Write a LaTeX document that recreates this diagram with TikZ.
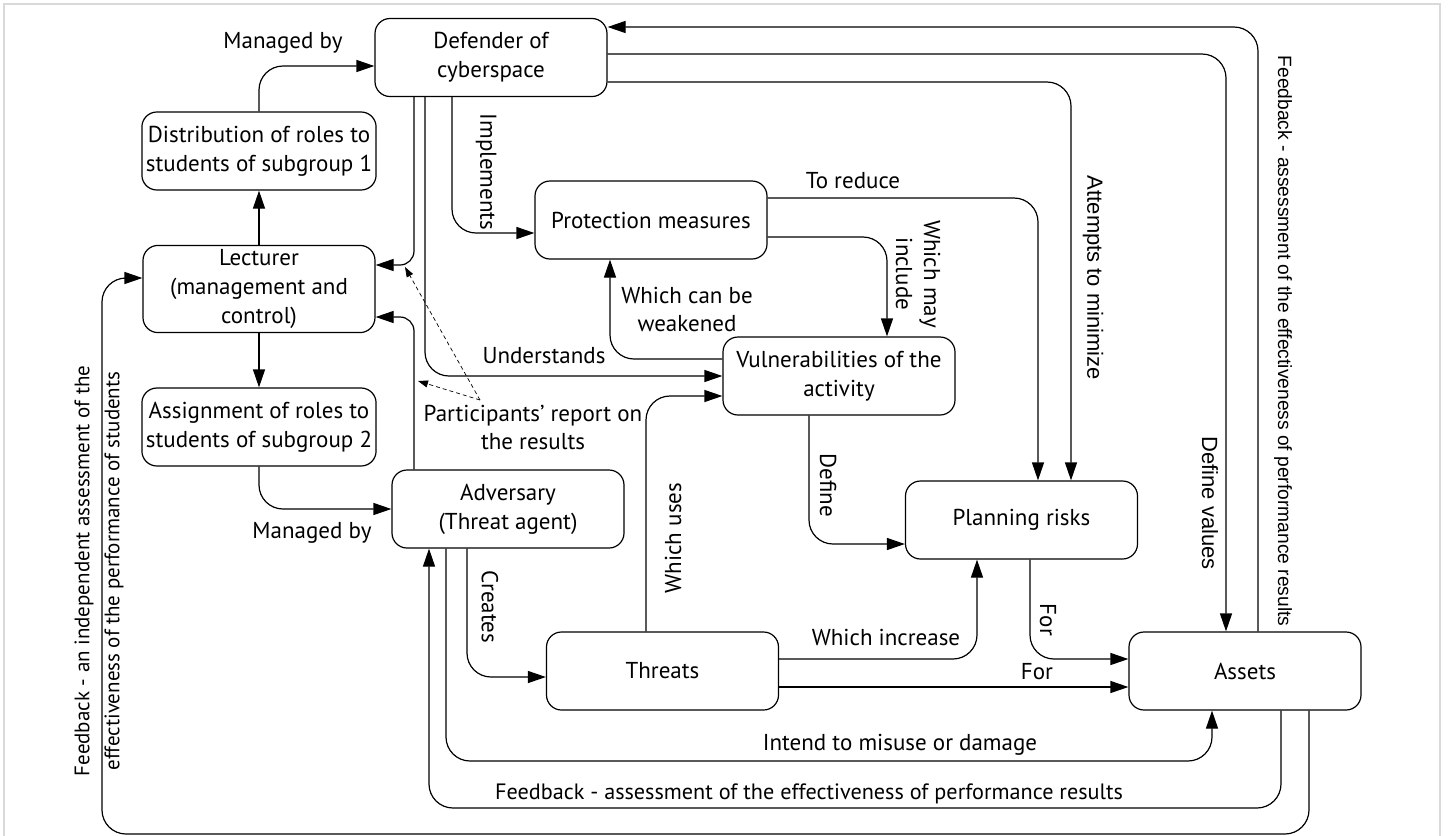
\documentclass[tikz,border=0pt]{standalone}
\usepackage{fontspec}
\setmainfont{PT Sans}
\newfontfamily\arialfont{Liberation Sans}
\usetikzlibrary{positioning,arrows.meta}
\begin{document}
\begin{tikzpicture}[x=0.5pt, y=-0.5pt, node distance={69pt}, line width=0.6pt,
  box/.style = {draw, rounded corners=7.5pt, minimum width=116pt, minimum height=39pt, align=center, inner sep=2pt, font=\fontsize{11.5}{14.5}\selectfont},
  lbl/.style = {align=center, inner sep=0pt, font=\fontsize{11.5}{14}\selectfont},
  arl/.style = {align=center, inner sep=0pt, font=\arialfont\fontsize{11}{13}\selectfont},
  arr/.style = {-{Triangle[length=9pt,width=6pt]}, rounded corners=12pt},
  rep/.style = {-{Triangle[length=5pt,width=3.5pt]}, line width=0.35pt, dash pattern=on 2pt off 1.5pt}]
\useasboundingbox (0,0) rectangle (1448,836);
\draw[black!15, line width=1pt] (4,4) rectangle (1440,860);

\node[box] (lect) at (259,289) {Lecturer\\(management and\\control)};
\node[box] (dist) [above of=lect] {Distribution of roles to\\students of subgroup 1};
\node[box] (assign) [below of=lect] {Assignment of roles to\\students of subgroup 2};
\node[box] (def) at (491,57.5) {Defender of\\cyberspace};
\node[box] (adv) at (508,509) {Adversary\\(Threat agent)};
\node[box] (prot) at (651,220) {Protection measures};
\node[box] (vuln) at (839,376) {Vulnerabilities of the\\activity};
\node[box] (plan) at (1021.5,520) {Planning risks};
\node[box] (threats) at (662.5,671) {Threats};
\node[box] (assets) at (1245,671) {Assets};

% left part
\draw[arr] (dist.north) |- (def.west |- 0,66);
\draw[arr] (lect) -- (dist);
\draw[arr] (lect) -- (assign);
\draw[arr, rounded corners=7pt] (def.south -| 414,0) |- (lect.east |- 0,265);
\draw[arr, rounded corners=7pt] (adv.north -| 414,0) |- (lect.east |- 0,317);
\draw[arr] (def.south -| 425,0) |- (vuln.west);
\draw[arr] (def.south -| 452,0) |- (prot.west |- 0,233);
\draw[arr] (assign.south) |- (adv.west);
\draw[arr] (adv.south -| 467,0) |- (threats.west |- 0,677);
\draw[arr] (adv.south -| 446,0) |- (1212,761) -- (assets.south -| 1212,0);
\draw[arr] (assets.south -| 1281,0) |- (429,808) -- (adv.south -| 429,0);
\draw[arr] (assets.south -| 1309,0) |- (102,834) |- (lect.west |- 0,278);

% middle part
\draw[arr] (threats.north -| 646,0) |- (vuln.west |- 0,396);
\draw[arr] (vuln.south -| 809,0) |- (plan.west |- 0,544);
\draw[arr] (threats.east |- 0,659) -| (plan.south -| 977,0);
\draw[arr] (threats.east |- 0,687) -- (assets.west |- 0,687);
\draw[arr] (plan.south -| 1030,0) |- (assets.west |- 0,659);
\draw[arr] (prot.east |- 0,237) -| (vuln.north -| 887,0);
\draw[arr] (vuln.west |- 0,359) -| (prot.south -| 610,0);

% right part
\draw[arr] (prot.east |- 0,198) -| (plan.north -| 1038,0);
\draw[arr] (def.east |- 0,82) -| (plan.north -| 1071,0);
\draw[arr] (def.east |- 0,54) -| (assets.north -| 1226,0);
\draw[arr] (assets.north -| 1258,0) |- (def.east |- 0,27);

% report of the participants
\coordinate (rp) at (480,400);
\coordinate (rpa) at (418,381);
\coordinate (rpb) at (405,267);
\draw[rep] (rp) -- (rpa);
\draw[rep] (rp) -- (rpb);

\node[lbl] (tman1) at (283,43) {Managed by};
\node[lbl] (tman2) at (312,533) {Managed by};
\node[lbl, rotate=-90] (timpl) at (486,172) {Implements};
\node[lbl] (tund) at (544,356) {Understands};
\node[lbl] (trep) at (533,427) {Participants' report on\\the results};
\node[lbl, rotate=-90] (tcre) at (490,607) {Creates};
\node[lbl] (tint) at (900,745) {Intend to misuse or damage};
\node[lbl, font=\fontsize{11.1}{14}\selectfont] (tfb1) at (809,794) {Feedback - assessment of the effectiveness of performance results};
\node[lbl, rotate=90, font=\fontsize{10.5}{15}\selectfont] (tfb2) at (99,571) {Feedback - an independent assessment of the\\effectiveness of the performance of students};
\node[lbl, rotate=90] (tuses) at (673,538) {Which uses};
\node[lbl, rotate=-90] (tdef) at (828,485) {Define};
\node[lbl] (tinc) at (886,637) {Which increase};
\node[lbl] (tfor1) at (1037,672) {For};
\node[lbl, rotate=-90] (tfor2) at (1048,620) {For};
\node[lbl] (tred) at (853,181) {To reduce};
\node[lbl, rotate=-90] (tinl) at (918,274) {Which may\\include};
\node[lbl] (tweak) at (687,309) {Which can be\\weakened};
\node[arl, rotate=-90] (tatt) at (1093,278) {Attempts to minimize};
\node[arl, rotate=-90] (tval) at (1210,503) {Define values};
\node[arl, rotate=-90, font=\arialfont\fontsize{9.6}{12}\selectfont] (tfb3) at (1283,341) {Feedback - assessment of the effectiveness of performance results};
\end{tikzpicture}
\end{document}
